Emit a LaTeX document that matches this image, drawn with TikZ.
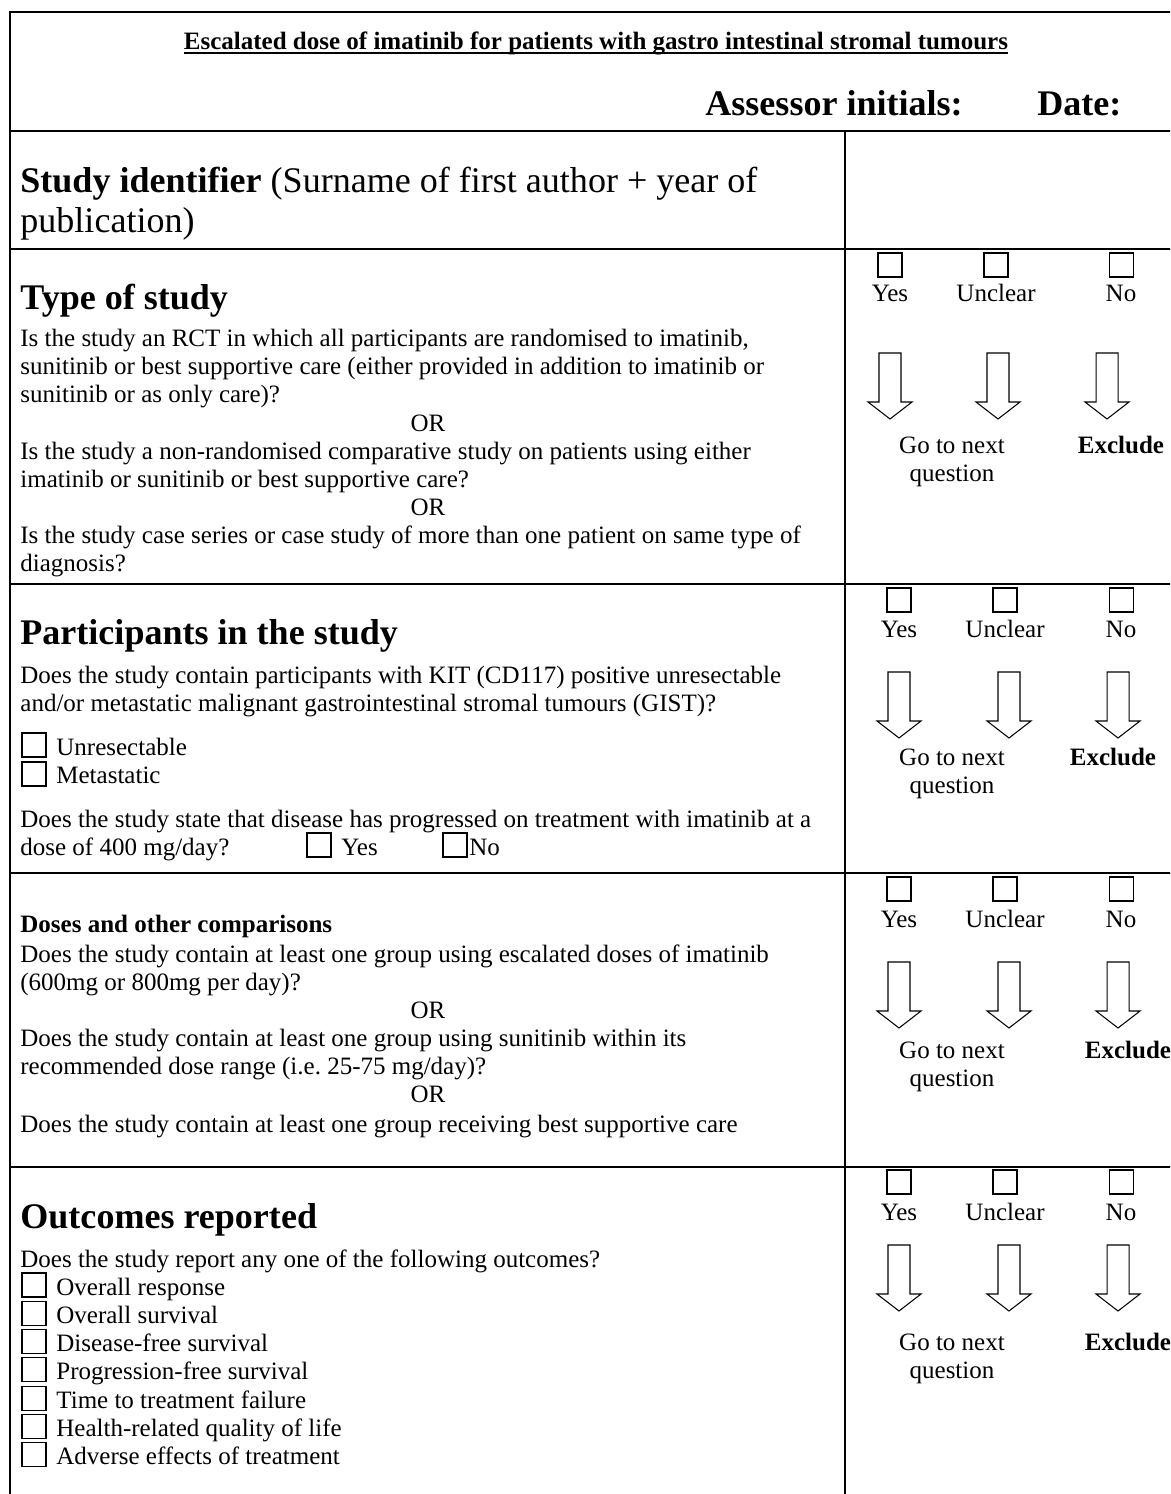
\documentclass[tikz,border=0pt]{standalone}
\usepackage{fontspec}
\setmainfont{Liberation Serif}

\newcommand\bodyfont{\fontsize{12pt}{13.44pt}\selectfont}
\newcommand\headfont{\fontsize{17.3pt}{19.2pt}\selectfont}

\tikzset{
  frameline/.style={line width=1pt},
  tickbox/.style={line width=0.5pt},
  arrowline/.style={line width=0.5pt},
  txt/.style={font=\bodyfont, inner sep=0pt, anchor=base west},
  para/.style={txt, align=left, text width=400pt,
    execute at begin node={\spaceskip=0pt\xspaceskip=0pt\relax}},
  lbl/.style={font=\bodyfont, inner sep=0pt, anchor=base},
  heading/.style={font=\headfont\bfseries, inner sep=0pt, anchor=base west},
  hollowdown/.pic={
    \draw[arrowline] (-11,0) -- (11,0) -- (11,49) -- (22,49) -- (0,66) -- (-22,49) -- (-11,49) -- cycle;
  }
}

\begin{document}
\begin{tikzpicture}[x=0.48pt, y=-0.48pt]
\clip (0,0) rectangle (1170,1494);
\fill[white] (0,0) rectangle (1170,1494);

% Outer frame and table rules
\draw[frameline] (10,1510) -- (10,12) -- (1185,12) -- (1185,1510);
\foreach \y in {131,249,584,873,1167} {
    \draw[frameline] (10,\y) -- (1185,\y);
}
\draw[frameline] (845,131) -- (845,1510);

% Header
\node[lbl, font=\bodyfont\bfseries] (title) at (596,50) {Escalated dose of imatinib for patients with gastro intestinal stromal tumours};
\draw[line width=0.7pt] ([yshift=-1.5pt]title.base west) -- ([yshift=-1.5pt]title.base east);
\node[heading] (assessor) at (705,116) {Assessor initials:};
\node[heading] (date) at (1037,116) {Date:};

% Study identifier
\node[para, font=\headfont, text width=420pt] (studyid) at (20,193) {\textbf{Study identifier} (Surname of first author + year of\\publication)};

% Type of study
\node[heading] (typehead) at (20,310) {Type of study};
\node[para] (typeqa) at (20,347) {Is the study an RCT in which all participants are randomised to imatinib,\\sunitinib or best supportive care (either provided in addition to imatinib or\\sunitinib or as only care)?};
\node[lbl] (typeora) at (428,431) {OR};
\node[para] (typeqb) at (20,459) {Is the study a non-randomised comparative study on patients using either\\imatinib or sunitinib or best supportive care?};
\node[lbl] (typeorb) at (428,515) {OR};
\node[para] (typeqc) at (20,543) {Is the study case series or case study of more than one patient on same type of\\diagnosis?};

\foreach \x/\lab in {890/Yes, 996/Unclear, 1121/No} {
    \draw[tickbox] (\x-12,253) rectangle ++(24,24);
    \node[lbl] (type\lab) at (\x,302) {\lab};
}
\foreach \x in {890,998,1107}
    \pic at (\x,353) {hollowdown};
\node[lbl] (typego) at (952,453) {Go to next};
\node[lbl] (typenext) at (952,481) {question};
\node[lbl, font=\bodyfont\bfseries] (typeexcl) at (1121,453) {Exclude};

% Participants in the study
\node[heading] (parthead) at (20,644) {Participants in the study};
\node[para] (partqa) at (20,683) {Does the study contain participants with KIT (CD117) positive unresectable\\and/or metastatic malignant gastrointestinal stromal tumours (GIST)?};
\draw[tickbox] (22,733) rectangle ++(24,24);
\node[txt] (unres) at (56,755) {Unresectable};
\draw[tickbox] (22,762) rectangle ++(24,24);
\node[txt] (metast) at (56,783) {Metastatic};
\node[para] (partqb) at (20,827) {Does the study state that disease has progressed on treatment with imatinib at a\\dose of 400 mg/day?};
\draw[tickbox] (307,833) rectangle ++(24,24);
\node[txt] (progyes) at (341,855) {Yes};
\draw[tickbox] (443,833) rectangle ++(24,24);
\node[txt] (progno) at (469,855) {No};

\foreach \x/\lab in {899/Yes, 1005/Unclear, 1121/No} {
    \draw[tickbox] (\x-12,588) rectangle ++(24,24);
    \node[lbl] (part\lab) at (\x,637) {\lab};
}
\foreach \x in {899,1009,1118}
    \pic at (\x,672) {hollowdown};
\node[lbl] (partgo) at (952,765) {Go to next};
\node[lbl] (partnext) at (952,793) {question};
\node[lbl, font=\bodyfont\bfseries] (partexcl) at (1113,765) {Exclude};

% Doses and other comparisons
\node[txt, font=\bodyfont\bfseries] (dosehead) at (20,932) {Doses and other comparisons};
\node[para] (doseqa) at (20,962) {Does the study contain at least one group using escalated doses of imatinib\\(600mg or 800mg per day)?};
\node[lbl] (doseora) at (428,1018) {OR};
\node[para] (doseqb) at (20,1046) {Does the study contain at least one group using sunitinib within its\\recommended dose range (i.e.\ 25-75 mg/day)?};
\node[lbl] (doseorb) at (428,1102) {OR};
\node[txt] (doseqc) at (20,1132) {Does the study contain at least one group receiving best supportive care};

\foreach \x/\lab in {899/Yes, 1005/Unclear, 1121/No} {
    \draw[tickbox] (\x-12,877) rectangle ++(24,24);
    \node[lbl] (dose\lab) at (\x,927) {\lab};
}
\foreach \x in {899,1009,1118}
    \pic at (\x,962) {hollowdown};
\node[lbl] (dosego) at (952,1058) {Go to next};
\node[lbl] (dosenext) at (952,1086) {question};
\node[lbl, font=\bodyfont\bfseries] (doseexcl) at (1128,1058) {Exclude};

% Outcomes reported
\node[heading] (outhead) at (20,1228) {Outcomes reported};
\node[txt] (outq) at (20,1267) {Does the study report any one of the following outcomes?};
\foreach \lab [count=\i from 0] in {Overall response, Overall survival, Disease-free survival, Progression-free survival, Time to treatment failure, Health-related quality of life, Adverse effects of treatment} {
    \draw[tickbox] (22,1273+28.3*\i) rectangle ++(24,24);
    \node[txt] (outcome\i) at (56,1295+28.3*\i) {\lab};
}

\foreach \x/\lab in {899/Yes, 1005/Unclear, 1121/No} {
    \draw[tickbox] (\x-12,1170) rectangle ++(24,24);
    \node[lbl] (out\lab) at (\x,1220) {\lab};
}
\foreach \x in {899,1009,1118}
    \pic at (\x,1245) {hollowdown};
\node[lbl] (outgo) at (952,1350) {Go to next};
\node[lbl] (outnext) at (952,1378) {question};
\node[lbl, font=\bodyfont\bfseries] (outexcl) at (1128,1350) {Exclude};

\end{tikzpicture}
\end{document}
